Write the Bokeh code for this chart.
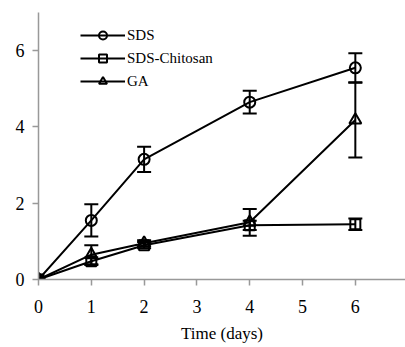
from bokeh.plotting import figure
from bokeh.models import ColumnDataSource, Whisker, TeeHead, Legend, LegendItem, FixedTicker, Range1d
from bokeh.embed import file_html
from bokeh.resources import INLINE

days = [0, 1, 2, 4, 6]
sds = [0.0, 1.55, 3.15, 4.65, 5.55]
sds_err = [0.05, 0.42, 0.33, 0.30, 0.38]
chit = [0.0, 0.48, 0.90, 1.42, 1.45]
chit_err = [0.05, 0.10, 0.08, 0.12, 0.15]
ga = [0.0, 0.65, 0.95, 1.50, 4.18]
ga_err = [0.05, 0.25, 0.08, 0.35, 0.98]
x_ticks = [0, 1, 2, 3, 4, 5, 6]
y_ticks = [0, 2, 4, 6]

FONT = "Liberation Serif"

p = figure(width=405, height=347, output_backend="svg", toolbar_location=None,
           x_range=Range1d(0, 6.95), y_range=Range1d(0, 7.0),
           min_border_left=38, min_border_top=12, min_border_bottom=68, min_border_right=0)
p.outline_line_color = None
p.grid.visible = False
p.background_fill_color = "white"

for ax in (p.xaxis[0], p.yaxis[0]):
    ax.axis_line_color = "#999999"
    ax.axis_line_width = 1.5
    ax.major_tick_line_color = "#999999"
    ax.major_tick_line_width = 1.5
    ax.major_tick_out = 6
    ax.major_tick_in = 0
    ax.minor_tick_line_color = None
    ax.major_label_text_font = FONT
    ax.major_label_text_font_style = "normal"
    ax.major_label_text_font_size = "18px"
    ax.major_label_text_color = "black"

p.xaxis.ticker = FixedTicker(ticks=x_ticks)
p.yaxis.ticker = FixedTicker(ticks=y_ticks)
p.xaxis.major_label_standoff = 14
p.yaxis.major_label_standoff = 8
p.xaxis.axis_label = "Time (days)"
p.xaxis.axis_label_text_font = FONT
p.xaxis.axis_label_text_font_style = "normal"
p.xaxis.axis_label_text_font_size = "17px"
p.xaxis.axis_label_text_color = "black"
p.xaxis.axis_label_standoff = 8

items = []
series = [("SDS", sds, sds_err, "circle", 11),
          ("SDS-Chitosan", chit, chit_err, "square", 10),
          ("GA", ga, ga_err, "triangle", 12)]
for name, ys, err, marker, size in series:
    src = ColumnDataSource(dict(x=days, y=ys,
                                upper=[a + b for a, b in zip(ys, err)],
                                lower=[a - b for a, b in zip(ys, err)]))
    w = Whisker(source=src, base="x", upper="upper", lower="lower",
                line_color="black", line_width=2,
                upper_head=TeeHead(size=14, line_color="black", line_width=2),
                lower_head=TeeHead(size=14, line_color="black", line_width=2))
    p.add_layout(w)
    l = p.line("x", "y", source=src, line_color="black", line_width=2)
    s = p.scatter("x", "y", source=src, marker=marker, size=size,
                  fill_color="white", fill_alpha=0.0, line_color="black", line_width=2)
    items.append(LegendItem(label=name, renderers=[l, s]))

leg = Legend(items=items, location=(42, 188), glyph_width=45, glyph_height=20,
             spacing=3, padding=0, margin=0, label_standoff=2,
             label_text_font=FONT, label_text_font_style="normal",
             label_text_font_size="15px", label_text_color="black",
             background_fill_alpha=0, border_line_color=None)
p.add_layout(leg, "center")

open("out.html", "w").write(file_html(p, INLINE))
